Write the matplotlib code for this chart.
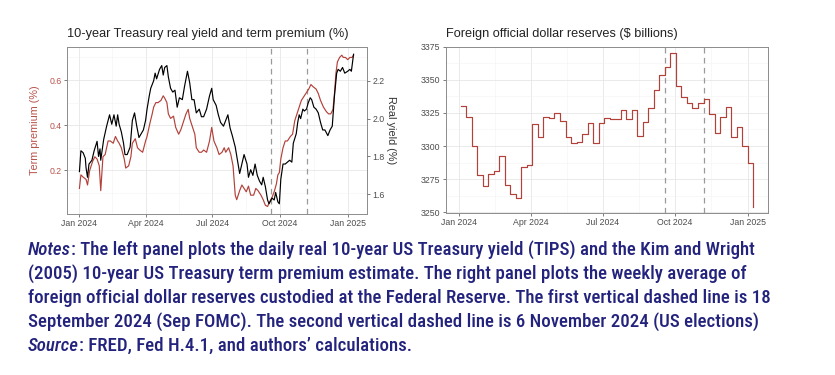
import numpy as np
import pandas as pd
import matplotlib
matplotlib.use("Agg")
import matplotlib.pyplot as plt
import matplotlib.dates as mdates
from matplotlib import font_manager
from matplotlib.ticker import FixedLocator, MultipleLocator

# ---- data (days counted from 1 Jan 2024) ----
tp_days = [1, 3, 6, 10, 12, 15, 19, 22, 25, 28, 30, 33, 36, 38, 40,
           43, 47, 50, 53, 55, 58, 62, 64, 68, 71, 73, 77, 80, 83, 87,
           91, 93, 97, 100, 102, 105, 108, 112, 115, 117, 120, 122, 125, 129, 132,
           136, 139, 142, 146, 149, 151, 155, 158, 160, 164, 167, 170, 174, 178, 181,
           184, 188, 191, 195, 198, 200, 204, 207, 210, 213, 215, 219, 222, 225, 228,
           231, 234, 238, 241, 244, 248, 251, 254, 257, 259, 263, 266, 269, 271, 273,
           275, 278, 281, 284, 288, 291, 294, 298, 300, 303, 307, 309, 313, 316, 319,
           323, 326, 329, 333, 337, 340, 343, 346, 348, 350, 352, 355, 358, 360, 363,
           366, 369, 372, 374]
term_premium = [0.12, 0.18, 0.17, 0.16, 0.135, 0.20, 0.24, 0.26, 0.25, 0.22,
                0.11, 0.26, 0.27, 0.30, 0.33, 0.33, 0.32, 0.35, 0.33, 0.32,
                0.30, 0.25, 0.21, 0.22, 0.26, 0.32, 0.34, 0.30, 0.29, 0.28,
                0.33, 0.35, 0.41, 0.45, 0.48, 0.50, 0.50, 0.51, 0.53, 0.52,
                0.50, 0.45, 0.43, 0.44, 0.39, 0.36, 0.38, 0.41, 0.45, 0.47,
                0.43, 0.39, 0.36, 0.30, 0.28, 0.28, 0.29, 0.28, 0.33, 0.39,
                0.33, 0.30, 0.27, 0.28, 0.30, 0.28, 0.30, 0.27, 0.22, 0.09,
                0.07, 0.11, 0.135, 0.12, 0.105, 0.13, 0.09, 0.09, 0.12, 0.11,
                0.09, 0.07, 0.045, 0.04, 0.055, 0.08, 0.105, 0.14, 0.18, 0.19,
                0.25, 0.30, 0.33, 0.33, 0.35, 0.36, 0.42, 0.46, 0.48, 0.51,
                0.53, 0.54, 0.56, 0.58, 0.57, 0.56, 0.54, 0.51, 0.48, 0.46,
                0.45, 0.45, 0.47, 0.54, 0.63, 0.68, 0.70, 0.71, 0.70, 0.70,
                0.69, 0.70, 0.70, 0.71]

ry_days = [1, 3, 6, 9, 10, 12, 14, 18, 21, 25, 27, 29, 30, 34, 38,
           42, 45, 48, 51, 53, 55, 58, 61, 63, 66, 70, 73, 76, 79, 82,
           85, 88, 91, 93, 96, 98, 102, 104, 106, 110, 113, 115, 117, 120, 122,
           125, 128, 131, 134, 137, 141, 144, 148, 151, 154, 157, 160, 164, 167, 170,
           174, 178, 181, 183, 187, 190, 193, 197, 200, 203, 206, 209, 213, 216, 219,
           222, 225, 229, 231, 234, 237, 240, 243, 246, 249, 251, 254, 257, 259, 263,
           266, 268, 271, 273, 275, 278, 281, 284, 287, 290, 292, 296, 298, 300, 302,
           305, 307, 310, 312, 315, 317, 320, 323, 326, 329, 332, 335, 339, 342, 345,
           348, 351, 353, 356, 359, 362, 366, 369, 371, 374]
real_yield = [1.72, 1.83, 1.82, 1.79, 1.74, 1.69, 1.76, 1.78, 1.83, 1.88,
              1.80, 1.84, 1.78, 1.89, 1.96, 2.02, 1.97, 2.02, 1.96, 2.02,
              1.97, 1.93, 1.87, 1.81, 1.81, 1.85, 1.99, 2.03, 1.96, 1.90,
              1.92, 1.94, 1.99, 2.05, 2.12, 2.16, 2.20, 2.24, 2.21, 2.26,
              2.28, 2.23, 2.27, 2.28, 2.22, 2.16, 2.14, 2.15, 2.06, 2.11,
              2.10, 2.17, 2.25, 2.19, 2.10, 2.10, 2.03, 2.05, 2.01, 2.01,
              2.05, 2.12, 2.16, 2.10, 2.07, 2.02, 1.98, 1.96, 1.99, 2.02,
              1.95, 1.91, 1.85, 1.78, 1.71, 1.76, 1.81, 1.76, 1.69, 1.73,
              1.70, 1.76, 1.70, 1.67, 1.65, 1.69, 1.64, 1.57, 1.55, 1.58,
              1.57, 1.61, 1.56, 1.55, 1.68, 1.76, 1.76, 1.77, 1.78, 1.77,
              1.87, 1.92, 1.98, 2.02, 2.00, 2.05, 2.04, 2.05, 2.08, 2.11,
              2.10, 2.06, 2.05, 2.03, 1.98, 1.94, 1.94, 1.91, 1.94, 1.96,
              2.12, 2.24, 2.26, 2.25, 2.27, 2.24, 2.25, 2.26, 2.25, 2.34]

# weekly (Wednesday) foreign official reserves, $ billions
res_start = "2024-01-03"
reserves = [3330.5, 3321.7, 3300.0, 3278.2, 3269.9, 3279.0, 3281.2, 3292.5, 3270.6, 3263.6,
            3260.6, 3284.5, 3285.7, 3316.6, 3306.6, 3321.7, 3321.0, 3325.2, 3319.2, 3307.1,
            3302.1, 3303.3, 3308.9, 3317.2, 3302.6, 3317.2, 3321.0, 3320.4, 3320.2, 3327.2,
            3320.4, 3327.2, 3307.8, 3317.9, 3328.5, 3342.3, 3353.6, 3359.9, 3370.0, 3345.3,
            3336.8, 3332.7, 3328.5, 3332.2, 3335.3, 3324.0, 3310.1, 3322.2, 3329.2, 3306.6,
            3314.6, 3300.0, 3287.5, 3253.8]

event_dates = ["2024-09-18", "2024-11-06"]
quarter_ticks = ["2024-01-01", "2024-04-01", "2024-07-01", "2024-10-01", "2025-01-01"]

notes = [
    ("Notes", ": The left panel plots the daily real 10-year US Treasury yield (TIPS) and the Kim and Wright"),
    ("", "(2005) 10-year US Treasury term premium estimate. The right panel plots the weekly average of"),
    ("", "foreign official dollar reserves custodied at the Federal Reserve. The first vertical dashed line is 18"),
    ("", "September 2024 (Sep FOMC). The second vertical dashed line is 6 November 2024 (US elections)"),
    ("Source", ": FRED, Fed H.4.1, and authors\u2019 calculations."),
]

# ---- styling ----
RED = "#b2413a"
RED_TXT = "#b9534b"
GREY_TXT = "#4d4d4d"
NAVY = "#23237d"
plt.rcParams["font.family"] = ["Liberation Sans", "DejaVu Sans"]

base = pd.Timestamp("2024-01-01")
tp_dates = base + pd.to_timedelta(tp_days, unit="D")
ry_dates = base + pd.to_timedelta(ry_days, unit="D")
res_dates = pd.date_range(res_start, periods=len(reserves), freq="7D")
qticks = pd.to_datetime(quarter_ticks)
qnum = mdates.date2num(qticks)
qminor = (qnum[:-1] + qnum[1:]) / 2


def style_axes(ax, x0, x1):
    ax.set_xlim(qnum[0] - x0, qnum[-1] + x1)
    ax.xaxis.set_major_locator(FixedLocator(qnum))
    ax.xaxis.set_minor_locator(FixedLocator(qminor))
    ax.xaxis.set_major_formatter(mdates.DateFormatter("%b %Y"))
    ax.grid(which="major", color="#e6e6e6", lw=0.6)
    ax.grid(which="minor", color="#f3f3f3", lw=0.4)
    ax.set_axisbelow(True)
    for s in ax.spines.values():
        s.set_color("#8c8c8c")
        s.set_linewidth(0.7)
    ax.tick_params(which="major", length=2.2, width=0.6, color="#666666",
                   labelsize=6.3, labelcolor=GREY_TXT, pad=1.5)
    ax.tick_params(which="minor", length=0)
    for d in pd.to_datetime(event_dates):
        ax.axvline(d, color="#9a9a9a", lw=0.9, ls=(0, (4.5, 3.5)), zorder=1)


fig = plt.figure(figsize=(8.35, 3.75), dpi=100)

# left panel
ax = fig.add_axes([0.0799, 0.4285, 0.36, 0.4469])
style_axes(ax, 16.3, 26.7)
ax.set_ylim(0.0052, 0.7474)
ax.yaxis.set_major_locator(FixedLocator([0.2, 0.4, 0.6]))
ax.yaxis.set_minor_locator(FixedLocator([0.1, 0.3, 0.5, 0.7]))
ax.tick_params(axis="y", labelcolor=RED_TXT)
ax.plot(tp_dates, term_premium, color=RED, lw=0.85, zorder=3)
ax.set_ylabel("Term premium (%)", color=RED_TXT, fontsize=7.8)
ax.yaxis.set_label_coords(-0.089, 0.5)

ax2 = ax.twinx()
ax2.set_ylim(1.4944, 2.3796)
ax2.yaxis.set_major_locator(FixedLocator([1.6, 1.8, 2.0, 2.2]))
ax2.plot(ry_dates, real_yield, color="black", lw=0.85, zorder=3)
for s in ax2.spines.values():
    s.set_visible(False)
ax2.tick_params(axis="y", length=2.2, width=0.6, color="#666666",
                labelsize=6.3, labelcolor=GREY_TXT, pad=1.5)
ax2.set_ylabel("Real yield (%)", color="#333333", fontsize=7.8, rotation=270)
ax2.yaxis.set_label_coords(1.078, 0.5)
ax2.yaxis.label.set_va("center")

fig.text(67 / 835, 1 - 37.5 / 375, "10-year Treasury real yield and term premium (%)",
         fontsize=9.2, color="#222222", va="baseline", ha="left")

# right panel
axr = fig.add_axes([0.5338, 0.4312, 0.3863, 0.4443])
style_axes(axr, 16.9, 26.1)
axr.set_ylim(3249.2, 3375.0)
axr.yaxis.set_major_locator(MultipleLocator(25))
axr.yaxis.set_minor_locator(FixedLocator(np.arange(3262.5, 3375, 25)))
axr.plot(res_dates, reserves, color=RED, lw=0.85, drawstyle="steps-post", zorder=3)

fig.text(445.5 / 835, 1 - 37.5 / 375, "Foreign official dollar reserves ($ billions)",
         fontsize=9.2, color="#222222", va="baseline", ha="left")

# ---- notes block ----
avail = {f.name for f in font_manager.fontManager.ttflist}
note_font = next((f for f in ["Roboto Condensed", "Liberation Sans Narrow",
                              "Open Sans Condensed", "Roboto"] if f in avail), "DejaVu Sans")
note_fs = 11.0
baselines = [255, 279, 303, 327, 351]
note_texts = []
for (ital, rest), yb in zip(notes, baselines):
    if ital:
        t0 = fig.text(27.7 / 835, 1 - yb / 375, ital, fontsize=note_fs, color=NAVY,
                      family=note_font, weight="medium", style="italic", va="baseline")
        t1 = fig.text(0, 0, rest, fontsize=note_fs, color=NAVY, family=note_font,
                      weight="medium", va="baseline")
        parts = [t0, t1]
    else:
        t1 = fig.text(27.7 / 835, 1 - yb / 375, rest, fontsize=note_fs, color=NAVY,
                      family=note_font, weight="medium", va="baseline")
        parts = [t1]
    note_texts.append(parts)

fig.canvas.draw()
r = fig.canvas.get_renderer()
w3 = note_texts[2][0].get_window_extent(r).width
scale = (769.3 - 27.7) / w3
for parts in note_texts:
    for t in parts:
        t.set_fontsize(note_fs * scale)
fig.canvas.draw()
for parts, yb in zip(note_texts, baselines):
    if len(parts) == 2:
        bb = parts[0].get_window_extent(r)
        parts[1].set_position((bb.x1 / fig.bbox.width, 1 - yb / 375))

fig.savefig("out.png", dpi=100, facecolor="white")
